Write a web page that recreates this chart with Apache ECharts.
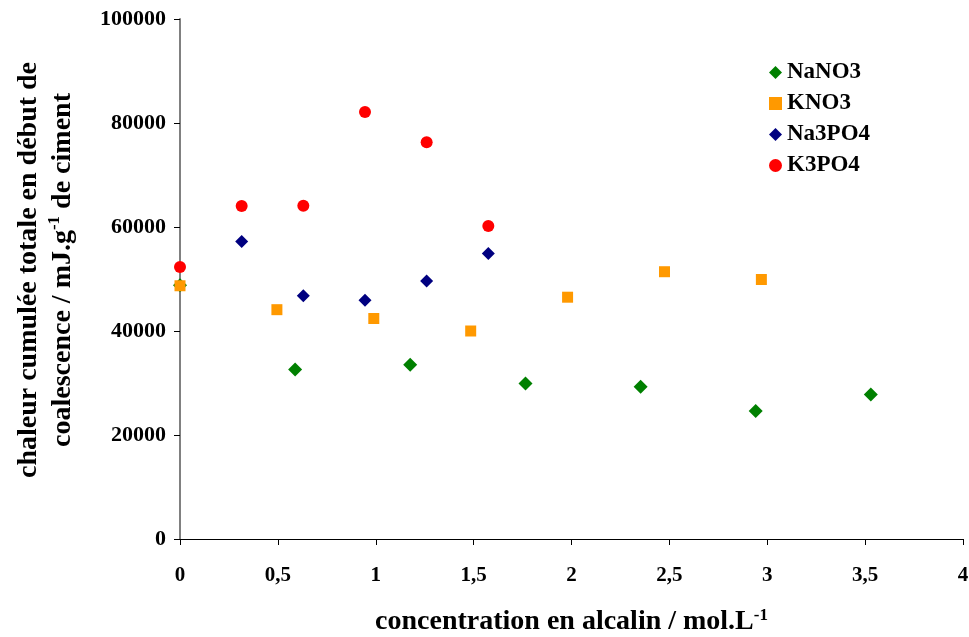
<!DOCTYPE html>
<html><head><meta charset="utf-8">
<script src="https://cdn.jsdelivr.net/npm/echarts@6/dist/echarts.min.js"></script>
<style>html,body{margin:0;padding:0;background:#fff}#c{width:969px;height:637px}</style>
</head><body><div id="c"></div>
<script>
const xTicks = [0, 0.5, 1, 1.5, 2, 2.5, 3, 3.5, 4];
const yTicks = [0, 20000, 40000, 60000, 80000, 100000];

const nano3X = [0, 0.588, 1.176, 1.765, 2.353, 2.941, 3.529];
const nano3Y = [48800, 32600, 33500, 29900, 29300, 24600, 27800];

const kno3X = [0, 0.495, 0.99, 1.485, 1.98, 2.475, 2.97];
const kno3Y = [48700, 44100, 42400, 40000, 46500, 51400, 49900];

const na3po4X = [0.315, 0.63, 0.945, 1.26, 1.575];
const na3po4Y = [57200, 46800, 45900, 49600, 54900];

const k3po4X = [0, 0.315, 0.63, 0.945, 1.26, 1.575];
const k3po4Y = [52300, 64050, 64100, 82100, 76300, 60200];

const zip = (xs, ys) => xs.map((x, i) => [x, ys[i]]);
const FONT = '"Liberation Serif", "Times New Roman", serif';
const SUP = {fontFamily: FONT, fontWeight: 'bold', fontSize: 17, color: '#000', verticalAlign: 'top', padding: [0, 0, 16, 0]};

const chart = echarts.init(document.getElementById('c'), null, {renderer: 'canvas'});
chart.setOption({
  animation: false,
  backgroundColor: '#ffffff',
  grid: {left: 180, right: 6, top: 19, bottom: 98, containLabel: false, outerBoundsMode: 'none'},
  legend: {
    orient: 'vertical', left: 764, top: 56, itemGap: 8,
    itemWidth: 13, itemHeight: 13,
    textStyle: {fontFamily: FONT, fontWeight: 'bold', fontSize: 23, color: '#000'},
    data: [
      {name: 'NaNO3', icon: 'diamond'},
      {name: 'KNO3', icon: 'rect'},
      {name: 'Na3PO4', icon: 'diamond'},
      {name: 'K3PO4', icon: 'circle'}
    ]
  },
  xAxis: {
    type: 'value', min: xTicks[0], max: xTicks[xTicks.length - 1], interval: 0.5,
    splitLine: {show: false},
    axisLine: {onZero: false, lineStyle: {color: '#000', width: 1}},
    axisTick: {show: true, length: 6, lineStyle: {color: '#000'}},
    axisLabel: {margin: 26, fontFamily: FONT, fontWeight: 'bold', fontSize: 21, color: '#000',
      formatter: v => String(v).replace('.', ',')},
    name: 'concentration en alcalin / mol.L{sup|-1}',
    nameLocation: 'middle', nameGap: 68,
    nameTextStyle: {fontFamily: FONT, fontWeight: 'bold', fontSize: 28, color: '#000', lineHeight: 30,
      rich: {sup: SUP}}
  },
  yAxis: {
    type: 'value', min: yTicks[0], max: yTicks[yTicks.length - 1], interval: 20000,
    splitLine: {show: false},
    axisLine: {show: true, lineStyle: {color: '#808080', width: 2}},
    axisTick: {show: true, length: 6, lineStyle: {color: '#000'}},
    axisLabel: {margin: 14, fontFamily: FONT, fontWeight: 'bold', fontSize: 22, color: '#000',
      formatter: v => String(v)},
    name: 'chaleur cumulée totale en début de\ncoalescence / mJ.g{sup|-1} de ciment',
    nameLocation: 'middle', nameGap: 100, nameRotate: 90,
    nameTextStyle: {fontFamily: FONT, fontWeight: 'bold', fontSize: 28, color: '#000', lineHeight: 34,
      padding: [0, 0, 0, 18],
      rich: {sup: SUP}}
  },
  series: [
    {name: 'NaNO3', type: 'scatter', symbol: 'diamond', symbolSize: 14,
      itemStyle: {color: '#008000', opacity: 1}, data: zip(nano3X, nano3Y)},
    {name: 'KNO3', type: 'scatter', symbol: 'rect', symbolSize: 11,
      itemStyle: {color: '#FF9900', opacity: 1}, data: zip(kno3X, kno3Y)},
    {name: 'Na3PO4', type: 'scatter', symbol: 'diamond', symbolSize: 13,
      itemStyle: {color: '#000080', opacity: 1}, data: zip(na3po4X, na3po4Y)},
    {name: 'K3PO4', type: 'scatter', symbol: 'circle', symbolSize: 12,
      itemStyle: {color: '#FF0000', opacity: 1}, data: zip(k3po4X, k3po4Y)}
  ]
});
</script>
</body></html>
